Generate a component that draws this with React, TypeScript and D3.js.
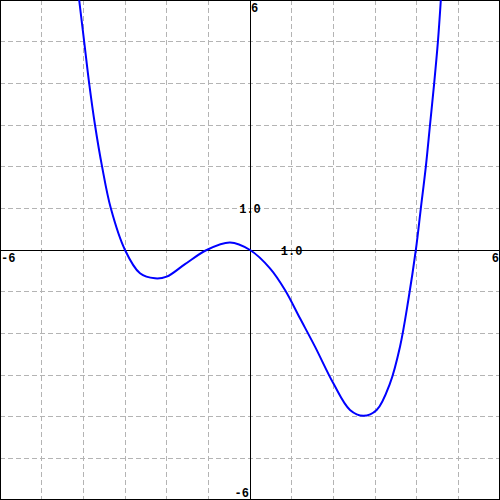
import React from "react";
import * as d3 from "d3";

const WIDTH = 500;
const HEIGHT = 500;

// range of both axes
const xDomain = [-6, 6];
const yDomain = [-6, 6];
const gridTicks = [-5, -4, -3, -2, -1, 1, 2, 3, 4, 5];

// points
const curveX = [
  -4.1, -3.98, -3.86, -3.72, -3.55, -3.34, -3.0, -2.64, -2.28, -2.0, -1.56,
  -1.04, -0.48, 0, 0.48, 0.84, 1.2, 1.56, 2.0, 2.4, 2.72, 3.04, 3.36, 3.6, 3.8,
  3.98, 4.1, 4.22, 4.32, 4.42, 4.51, 4.58,
];
const curveY = [
  6, 5, 4, 3, 2, 1, 0, -0.56, -0.68, -0.64, -0.34, 0, 0.18, 0, -0.44, -0.96,
  -1.64, -2.32, -3.2, -3.84, -3.98, -3.84, -3.2, -2.32, -1.2, 0, 1, 2, 3, 4, 5,
  6,
];

const App = () => {
  const x = d3.scaleLinear().domain(xDomain).range([0, WIDTH]);
  const y = d3.scaleLinear().domain(yDomain).range([HEIGHT, 0]);

  const pts: [number, number][] = curveX.map((v, i) => [v, curveY[i]]);
  const line = d3
    .line<[number, number]>()
    .x((d) => x(d[0]))
    .y((d) => y(d[1]))
    .curve(d3.curveCatmullRom.alpha(0.5));

  const font = { fontFamily: "'Liberation Mono', monospace", fontSize: 12, fontWeight: "bold" as const };

  return (
    <svg
      width={WIDTH}
      height={HEIGHT}
      style={{ position: "absolute", left: 0, top: 0, background: "#fff" }}
    >
      <defs>
        <clipPath id="plot">
          <rect x={0} y={0} width={WIDTH} height={HEIGHT} />
        </clipPath>
      </defs>
      {gridTicks.map((t) => (
        <g key={t} stroke="#b4b4b4" strokeDasharray="5,3" shapeRendering="crispEdges">
          <line x1={x(t)} x2={x(t)} y1={0} y2={HEIGHT} />
          <line x1={0} x2={WIDTH} y1={y(t)} y2={y(t)} />
        </g>
      ))}
      <g stroke="#000" shapeRendering="crispEdges">
        <line x1={0} x2={WIDTH} y1={y(0)} y2={y(0)} />
        <line x1={x(0)} x2={x(0)} y1={0} y2={HEIGHT} />
        <rect x={0.5} y={0.5} width={WIDTH - 1} height={HEIGHT - 1} fill="none" />
      </g>
      <path
        d={line(pts) || ""}
        fill="none"
        stroke="#0000ff"
        strokeWidth={2}
        clipPath="url(#plot)"
      />
      <g {...font} fill="#000">
        <text x={x(xDomain[0]) + 1} y={y(0) + 12}>{xDomain[0]}</text>
        <text x={x(xDomain[1]) - 1} y={y(0) + 12} textAnchor="end">{xDomain[1]}</text>
        <text x={x(0) + 1} y={y(yDomain[1]) + 12}>{yDomain[1]}</text>
        <text x={x(0) - 1} y={y(yDomain[0]) - 3}>
          <tspan textAnchor="end">{yDomain[0]}</tspan>
        </text>
        <text x={x(1)} y={y(0) + 5} textAnchor="middle">1.0</text>
        <text x={x(0)} y={y(1) + 5} textAnchor="middle">1.0</text>
      </g>
    </svg>
  );
};

export default App;
